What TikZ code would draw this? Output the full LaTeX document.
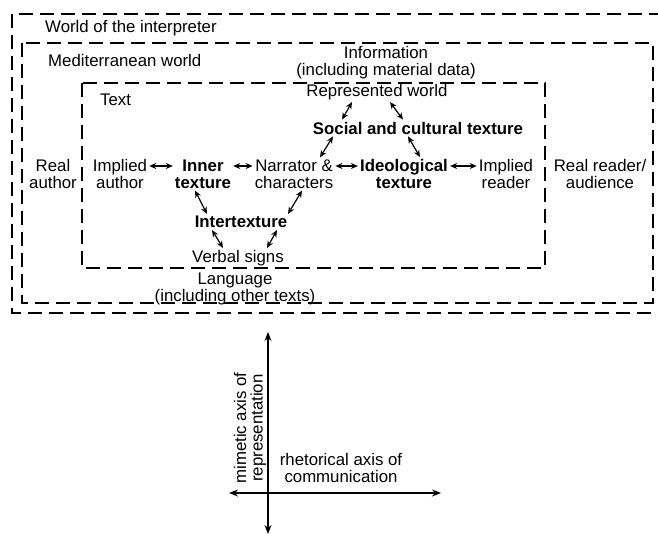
\documentclass[tikz,border=0pt]{standalone}
\usepackage{fontspec}
\setmainfont{Liberation Sans}
\usetikzlibrary{arrows.meta}
\begin{document}
\begin{tikzpicture}[x=1pt,y=-1pt,
  lbl/.style={font=\fontsize{16.8}{17}\selectfont, inner sep=2pt, align=center},
  blbl/.style={lbl, font=\fontsize{16.8}{17}\selectfont\bfseries},
  frame/.style={line width=1.4pt, dash pattern=on 14pt off 7pt},
  biarrow/.style={line width=1.2pt, {Stealth[length=7pt,width=6pt]}-{Stealth[length=7pt,width=6pt]}},
  axis/.style={line width=1.2pt, {Stealth[length=9pt,width=7pt]}-{Stealth[length=9pt,width=7pt]}}]
\useasboundingbox (0,0) rectangle (658,537);
% frames
\draw[frame] (12,14) rectangle (700,313);
\draw[frame] (22,43) rectangle (653,303);
\draw[frame] (82,83) rectangle (545,268);
% frame labels
\node[lbl, anchor=west] (world) at (43,28) {World of the interpreter};
\node[lbl, anchor=west] (med) at (46,60) {Mediterranean world};
\node[lbl, anchor=west] (textl) at (98,100) {Text};
\node[lbl] (info) at (386,63) {Information\\(including material data)};
\node[lbl] (rep) at (377,92) {Represented world};
\node[blbl] (soc) at (418,128) {Social and cultural texture};
\node[lbl] (ra) at (53,174) {Real\\author};
\node[lbl] (ia) at (120,174) {Implied\\author};
\node[blbl] (inner) at (203,174) {Inner\\texture};
\node[lbl] (narr) at (294,174) {Narrator \&\\characters};
\node[blbl] (ideo) at (404,174) {Ideological\\texture};
\node[lbl] (ir) at (506,174) {Implied\\reader};
\node[lbl] (rr) at (600,174) {Real reader/\\audience};
\node[blbl] (inter) at (241,222) {Intertexture};
\node[lbl] (verbal) at (238,258) {Verbal signs};
\node[lbl] (lang) at (235,289) {Language\\(including other texts)};
% horizontal arrows
\draw[biarrow] ([yshift=8pt]ia.east) -- ([yshift=8pt]inner.west);
\draw[biarrow] ([yshift=8pt]inner.east) -- ([yshift=8pt]narr.west);
\draw[biarrow] ([yshift=8pt]narr.east) -- ([yshift=8pt]ideo.west);
\draw[biarrow] ([yshift=8pt]ideo.east) -- ([yshift=8pt]ir.west);
% diagonal arrows
\draw[biarrow] ([xshift=-25pt]rep.south) -- ([xshift=-76pt]soc.north);
\draw[biarrow] ([xshift=13pt]rep.south) -- ([xshift=-15pt]soc.north);
\draw[biarrow] ([xshift=-85pt]soc.south) -- ([xshift=26pt]narr.north);
\draw[biarrow] ([xshift=-10pt]soc.south) -- ([xshift=16pt]ideo.north);
\draw[biarrow] ([xshift=-8pt]inner.south) -- ([xshift=-34pt]inter.north);
\draw[biarrow] ([xshift=8pt]narr.south) -- ([xshift=47pt]inter.north);
\draw[biarrow] ([xshift=-29pt]inter.south) -- ([xshift=-15pt]verbal.north);
\draw[biarrow] ([xshift=36pt]inter.south) -- ([xshift=29pt]verbal.north);
% axes
\coordinate (vtop) at (268,332);
\coordinate (vbot) at (268,534);
\coordinate (hleft) at (229,493);
\coordinate (hright) at (441,493);
\draw[axis] (vtop) -- (vbot);
\draw[axis] (hleft) -- (hright);
\node[lbl, rotate=90, font=\fontsize{16.8}{16.5}\selectfont] (mim) at (250,428) {mimetic axis of\\representation};
\node[lbl, font=\fontsize{16.8}{16.5}\selectfont] (rhet) at (341,468) {rhetorical axis of\\communication};
\end{tikzpicture}
\end{document}
